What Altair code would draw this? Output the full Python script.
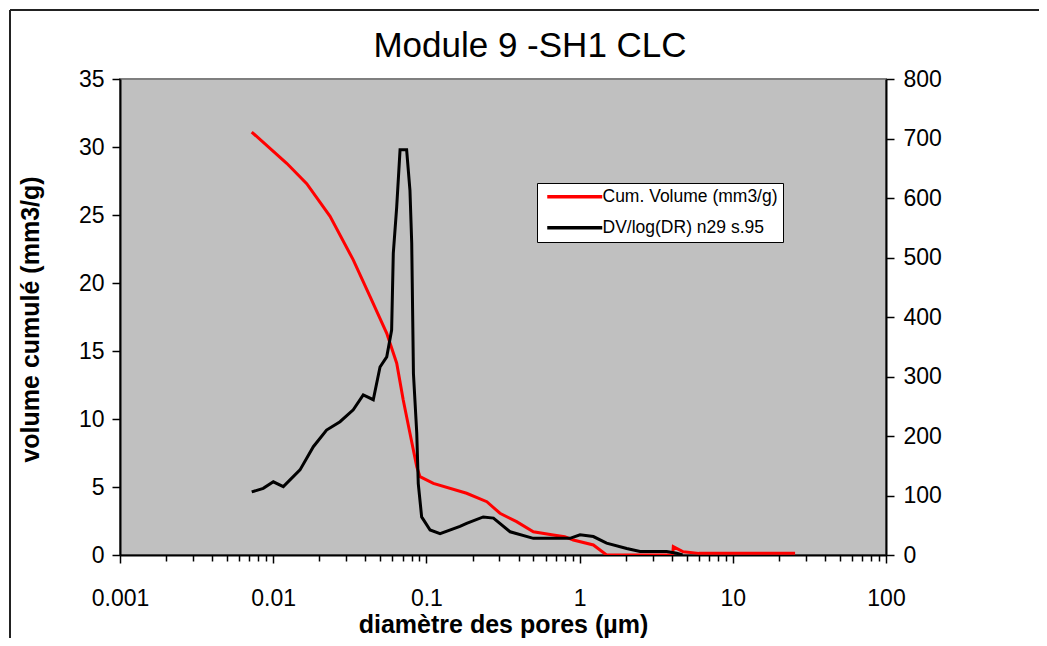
import altair as alt
import pandas as pd

# ---------------- data ----------------
series_names = ["Cum. Volume (mm3/g)", "DV/log(DR) n29 s.95"]
series_colors = ["#ff0000", "#000000"]

# cumulative volume (left axis, mm3/g) vs pore diameter (µm)
cum_diam = [0.00724, 0.01225, 0.01655, 0.0235, 0.0333, 0.0429, 0.0551, 0.0640,
            0.0706, 0.0781, 0.0865, 0.0908, 0.111, 0.183, 0.248, 0.302, 0.388,
            0.499, 0.673, 0.80, 0.91, 1.23, 1.50, 4.05, 4.09, 4.75, 6.0, 25.5]
cum_vol = [31.1, 28.8, 27.3, 24.9, 21.7, 19.0, 16.3, 14.1,
           11.4, 8.95, 6.5, 5.76, 5.27, 4.54, 3.92, 3.07, 2.45,
           1.71, 1.47, 1.35, 1.10, 0.74, 0.0, 0.0, 0.61, 0.24, 0.12, 0.12]

# DV/log(DR) (right axis) vs pore diameter (µm)
dv_diam = [0.00724, 0.00861, 0.01002, 0.01164, 0.01496, 0.01828, 0.0223, 0.0273,
           0.0333, 0.0387, 0.0450, 0.0498, 0.0551, 0.0593, 0.0608, 0.0640,
           0.0673, 0.0743, 0.0781, 0.0802, 0.0823, 0.0865, 0.0885, 0.0931,
           0.1057, 0.1228, 0.1656, 0.183, 0.235, 0.274, 0.352, 0.499, 0.865,
           1.007, 1.23, 1.50, 2.03, 2.48, 3.70, 4.30, 4.70]
dv_val = [106, 112, 123, 115, 143, 182, 210, 224,
          244, 269, 261, 316, 333, 378, 507, 585,
          681, 681, 613, 524, 305, 205, 120, 64,
          42, 36, 48, 53, 64, 62, 39, 28, 28,
          34, 31, 20, 11, 6, 6, 3, 0]

x_decades = [0.001, 0.01, 0.1, 1, 10, 100]
x_minor_mult = [1, 2, 3, 4, 5, 6, 7, 8, 9]
left_ticks = [0, 5, 10, 15, 20, 25, 30, 35]
right_ticks = [0, 100, 200, 300, 400, 500, 600, 700, 800]

x_tick_values = [round(m * d, 6) for d in x_decades[:-1] for m in x_minor_mult] + [x_decades[-1]]

title_text = "Module 9 -SH1 CLC"
x_title = "diamètre des pores (µm)"
y_title = "volume cumulé (mm3/g)"

FONT = "Liberation Sans, Arial, sans-serif"

cum_df = pd.DataFrame({"d": cum_diam, "v": cum_vol, "s": series_names[0]})
dv_df = pd.DataFrame({"d": dv_diam, "v": dv_val, "s": series_names[1]})

major_test = "indexof([0.001,0.01,0.1,1,10,100], datum.value) >= 0"

x_enc = alt.X(
    "d:Q",
    scale=alt.Scale(type="log", domain=[0.001, 100], nice=False),
    axis=alt.Axis(
        values=x_tick_values,
        labelExpr=f"{major_test} ? format(datum.value, '~g') : ''",
        tickSize={"condition": {"test": major_test, "value": 8}, "value": 6},
        tickColor="black", tickWidth=1.5,
        domainColor="black", domainWidth=2,
        labelFontSize=23, labelFont=FONT, labelColor="black",
        labelPadding=24, labelFlush=False, labelOverlap=False, labelBound=False,
        title=x_title, titleFont=FONT, titleFontSize=25, titleFontWeight="bold",
        titleColor="black", titleBaseline="alphabetic", titleY=77,
        grid=False,
    ),
)

color_enc = alt.Color(
    "s:N",
    scale=alt.Scale(domain=series_names, range=series_colors),
    legend=alt.Legend(
        title=None, orient="none", legendX=417, legendY=104,
        direction="vertical",
        fillColor="white", strokeColor="black",
        padding=5, rowPadding=12,
        symbolType="M-5,0H5", symbolSize=121, symbolStrokeWidth=3.5,
        symbolOffset=24,
        labelFont=FONT, labelFontSize=17.5, labelColor="black", labelOffset=19,
        labelLimit=400,
    ),
)

red = alt.Chart(cum_df).mark_line(strokeWidth=3, clip=True).encode(
    x=x_enc,
    y=alt.Y(
        "v:Q",
        scale=alt.Scale(domain=[0, 35], nice=False, zero=True),
        axis=alt.Axis(
            orient="left", values=left_ticks,
            tickSize=8, tickColor="black", tickWidth=1.5,
            domainColor="black", domainWidth=2,
            labelFontSize=23, labelFont=FONT, labelColor="black", labelPadding=8,
            title=y_title, titleFont=FONT, titleFontSize=25, titleFontWeight="bold",
            titleColor="black", titleAngle=270, titleX=-90, titleY=240,
            titleAlign="center", titleBaseline="middle",
            grid=False,
        ),
    ),
    color=color_enc,
)

black = alt.Chart(dv_df).mark_line(strokeWidth=3, clip=True).encode(
    x=x_enc,
    y=alt.Y(
        "v:Q",
        scale=alt.Scale(domain=[0, 800], nice=False, zero=True),
        axis=alt.Axis(
            orient="right", values=right_ticks,
            tickSize=8, tickColor="black", tickWidth=1.5,
            domainColor="black", domainWidth=2,
            labelFontSize=23, labelFont=FONT, labelColor="black", labelPadding=9,
            title=None, grid=False,
        ),
    ),
    color=color_enc,
)

frame_src = alt.Data(values=[{}])
frame_left = alt.Chart(frame_src).mark_rule(color="#222222", strokeWidth=2).encode(
    x=alt.value(-110), y=alt.value(-69), y2=alt.value(700)
)
frame_top = alt.Chart(frame_src).mark_rule(color="#222222", strokeWidth=2).encode(
    x=alt.value(-110), x2=alt.value(1000), y=alt.value(-69)
)

chart = (
    alt.layer(frame_left, frame_top, red, black)
    .resolve_scale(y="independent")
    .properties(
        width=766,
        height=476,
        autosize=alt.AutoSizeParams(type="none"),
        padding={"left": 112, "top": 71, "right": 153, "bottom": 83},
        background="white",
        title=alt.TitleParams(
            title_text, font=FONT, fontSize=35, fontWeight="normal",
            color="black", anchor="middle", dx=27, dy=91,
            baseline="alphabetic", offset=8,
        ),
    )
    .configure_view(fill="#c0c0c0", stroke="#7f7f7f", strokeWidth=2)
)

chart.save("out.html", embed_options={"renderer": "svg", "actions": False})
